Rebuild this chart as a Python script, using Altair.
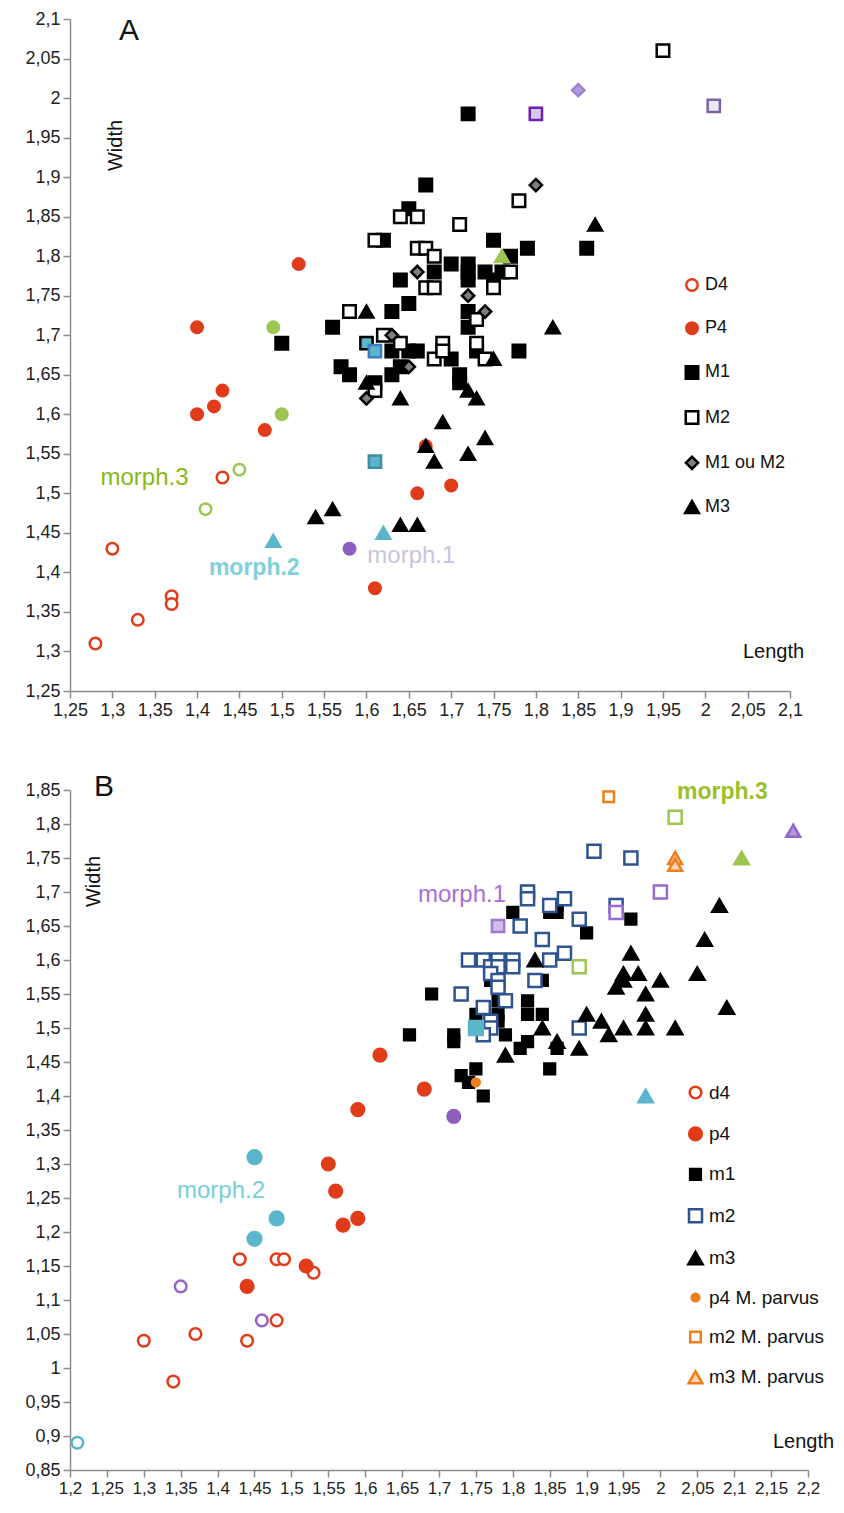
import altair as alt
import pandas as pd

FONT = "Liberation Sans"

# ======================= Panel A data (Length, Width) =======================
A_D4_LEN = [1.28, 1.30, 1.33, 1.37, 1.37, 1.43]
A_D4_WID = [1.31, 1.43, 1.34, 1.37, 1.36, 1.52]

A_P4_LEN = [1.40, 1.40, 1.42, 1.43, 1.48, 1.52, 1.61, 1.66, 1.67, 1.70]
A_P4_WID = [1.71, 1.60, 1.61, 1.63, 1.58, 1.79, 1.38, 1.50, 1.56, 1.51]

A_M1_LEN = [1.50, 1.56, 1.57, 1.58, 1.61, 1.62, 1.63, 1.63, 1.63, 1.64,
            1.64, 1.65, 1.65, 1.65, 1.66, 1.67, 1.68, 1.70, 1.70, 1.71,
            1.71, 1.72, 1.72, 1.72, 1.72, 1.72, 1.72, 1.73, 1.74, 1.75,
            1.75, 1.76, 1.77, 1.78, 1.79, 1.86]
A_M1_WID = [1.69, 1.71, 1.66, 1.65, 1.64, 1.82, 1.73, 1.68, 1.65, 1.77,
            1.66, 1.86, 1.74, 1.68, 1.68, 1.89, 1.78, 1.79, 1.67, 1.65,
            1.64, 1.98, 1.79, 1.78, 1.77, 1.73, 1.71, 1.68, 1.78, 1.82,
            1.77, 1.78, 1.80, 1.68, 1.81, 1.81]

A_M2_LEN = [1.58, 1.61, 1.61, 1.62, 1.64, 1.64, 1.66, 1.66, 1.67, 1.67,
            1.68, 1.68, 1.68, 1.69, 1.69, 1.71, 1.73, 1.73, 1.74, 1.75,
            1.77, 1.78, 1.95]
A_M2_WID = [1.73, 1.82, 1.63, 1.70, 1.85, 1.69, 1.85, 1.81, 1.81, 1.76,
            1.80, 1.76, 1.67, 1.69, 1.68, 1.84, 1.72, 1.69, 1.67, 1.76,
            1.78, 1.87, 2.06]

A_M12_LEN = [1.60, 1.63, 1.65, 1.66, 1.72, 1.74, 1.80]
A_M12_WID = [1.62, 1.70, 1.66, 1.78, 1.75, 1.73, 1.89]

A_M3_LEN = [1.54, 1.56, 1.60, 1.60, 1.64, 1.64, 1.66, 1.67, 1.68, 1.69,
            1.72, 1.72, 1.73, 1.74, 1.75, 1.82, 1.87]
A_M3_WID = [1.47, 1.48, 1.73, 1.64, 1.62, 1.46, 1.46, 1.56, 1.54, 1.59,
            1.63, 1.55, 1.62, 1.57, 1.67, 1.71, 1.84]

# highlighted morphotypes, panel A (length, width)
A_MORPH3_OPEN_CIRCLE = [(1.41, 1.48), (1.45, 1.53)]
A_MORPH3_CIRCLE = [(1.49, 1.71), (1.50, 1.60)]
A_MORPH3_TRIANGLE = [(1.76, 1.80)]
A_MORPH2_TRIANGLE = [(1.49, 1.44), (1.62, 1.45)]
A_MORPH2_SQUARE_DARK = [(1.60, 1.69)]
A_MORPH2_SQUARE_BLUE = [(1.61, 1.68)]
A_MORPH2_SQUARE_TEAL = [(1.61, 1.54)]
A_MORPH1_CIRCLE = [(1.58, 1.43)]
A_MORPH1_SQUARE = [(1.80, 1.98)]
A_MORPH1_DIAMOND = [(1.85, 2.01)]
A_MORPH1_SQUARE_PALE = [(2.01, 1.99)]

A_TICKS = [1.25, 1.30, 1.35, 1.40, 1.45, 1.50, 1.55, 1.60, 1.65, 1.70,
           1.75, 1.80, 1.85, 1.90, 1.95, 2.00, 2.05, 2.10]

A_NOTES_TEXT = ["morph.3", "morph.2", "morph.1"]
A_NOTES_LEN = [1.286, 1.414, 1.601]
A_NOTES_WID = [1.520, 1.406, 1.421]

# ======================= Panel B data (Length, Width) =======================
B_D4_LEN = [1.30, 1.34, 1.37, 1.43, 1.44, 1.48, 1.48, 1.49, 1.53]
B_D4_WID = [1.04, 0.98, 1.05, 1.16, 1.04, 1.16, 1.07, 1.16, 1.14]

B_P4_LEN = [1.44, 1.52, 1.55, 1.56, 1.57, 1.59, 1.59, 1.62, 1.68]
B_P4_WID = [1.12, 1.15, 1.30, 1.26, 1.21, 1.22, 1.38, 1.46, 1.41]

B_M1_LEN = [1.66, 1.69, 1.72, 1.72, 1.73, 1.74, 1.75, 1.75, 1.76, 1.77,
            1.78, 1.78, 1.78, 1.78, 1.79, 1.79, 1.80, 1.81, 1.82, 1.82,
            1.82, 1.84, 1.84, 1.85, 1.85, 1.86, 1.86, 1.86, 1.90, 1.96]
B_M1_WID = [1.49, 1.55, 1.49, 1.48, 1.43, 1.42, 1.44, 1.52, 1.40, 1.57,
            1.58, 1.54, 1.52, 1.51, 1.49, 1.59, 1.67, 1.47, 1.48, 1.54,
            1.52, 1.57, 1.52, 1.44, 1.67, 1.68, 1.67, 1.47, 1.64, 1.66]

B_M2_LEN = [1.73, 1.74, 1.76, 1.78, 1.80, 1.77, 1.78, 1.80, 1.77, 1.78,
            1.78, 1.79, 1.76, 1.77, 1.77, 1.76, 1.81, 1.82, 1.82, 1.83,
            1.84, 1.85, 1.85, 1.87, 1.87, 1.89, 1.89, 1.91, 1.94, 1.96]
B_M2_WID = [1.55, 1.60, 1.60, 1.60, 1.60, 1.59, 1.59, 1.59, 1.58, 1.57,
            1.56, 1.54, 1.53, 1.51, 1.50, 1.49, 1.65, 1.70, 1.69, 1.57,
            1.63, 1.60, 1.68, 1.69, 1.61, 1.66, 1.50, 1.76, 1.68, 1.75]

B_M3_LEN = [1.79, 1.83, 1.84, 1.86, 1.89, 1.90, 1.92, 1.93, 1.94, 1.95,
            1.95, 1.95, 1.96, 1.97, 1.98, 1.98, 1.98, 2.00, 2.02, 2.05,
            2.06, 2.08, 2.09]
B_M3_WID = [1.46, 1.60, 1.50, 1.48, 1.47, 1.52, 1.51, 1.49, 1.56, 1.57,
            1.58, 1.50, 1.61, 1.58, 1.55, 1.52, 1.50, 1.57, 1.50, 1.58,
            1.63, 1.68, 1.53]

B_P4_PARVUS_LEN = [1.75]
B_P4_PARVUS_WID = [1.42]
B_M2_PARVUS_LEN = [1.93]
B_M2_PARVUS_WID = [1.84]
B_M3_PARVUS_LEN = [2.02, 2.02]
B_M3_PARVUS_WID = [1.75, 1.74]

# highlighted morphotypes, panel B (length, width)
B_MORPH1_OPEN_CIRCLE = [(1.35, 1.12), (1.46, 1.07)]
B_MORPH1_CIRCLE = [(1.72, 1.37)]
B_MORPH1_SQUARE_PALE = [(1.78, 1.65)]
B_MORPH1_OPEN_SQUARE = [(1.94, 1.67), (2.00, 1.70)]
B_MORPH1_TRIANGLE = [(2.18, 1.79)]
B_MORPH2_OPEN_CIRCLE = [(1.21, 0.89)]
B_MORPH2_CIRCLE = [(1.45, 1.31), (1.48, 1.22), (1.45, 1.19)]
B_MORPH2_SQUARE = [(1.75, 1.50)]
B_MORPH2_TRIANGLE = [(1.98, 1.40)]
B_MORPH3_OPEN_SQUARE = [(1.89, 1.59), (2.02, 1.81)]
B_MORPH3_TRIANGLE = [(2.11, 1.75)]

B_XTICKS = [1.20, 1.25, 1.30, 1.35, 1.40, 1.45, 1.50, 1.55, 1.60, 1.65, 1.70,
            1.75, 1.80, 1.85, 1.90, 1.95, 2.00, 2.05, 2.10, 2.15, 2.20]
B_YTICKS = [0.85, 0.90, 0.95, 1.00, 1.05, 1.10, 1.15, 1.20, 1.25, 1.30, 1.35,
            1.40, 1.45, 1.50, 1.55, 1.60, 1.65, 1.70, 1.75, 1.80, 1.85]

B_NOTES_TEXT = ["morph.1", "morph.3", "morph.2"]
B_NOTES_LEN = [1.6715, 2.0225, 1.345]
B_NOTES_WID = [1.6956, 1.847, 1.260]

# ======================= styles =======================
RED = "#e03c1a"
GREEN = "#9cc551"
CYAN = "#5bb5cb"
BLUE = "#2e5391"
ORANGE = "#ef7d1a"

A_SERIES = ["D4", "P4", "M1", "M2", "M1 ou M2", "M3"]
A_STYLE = {
    "D4": ("circle", "white", RED, 132),
    "P4": ("circle", RED, RED, 132),
    "M1": ("square", "black", "black", 156),
    "M2": ("square", "white", "black", 156),
    "M1 ou M2": ("diamond", "#7f7f7f", "black", 150),
    "M3": ("triangle-up", "black", "black", 185),
}
B_SERIES = ["d4", "p4", "m1", "m2", "m3", "p4 M. parvus", "m2 M. parvus", "m3 M. parvus"]
B_STYLE = {
    "d4": ("circle", "white", RED, 135),
    "p4": ("circle", RED, RED, 160),
    "m1": ("square", "black", "black", 115),
    "m2": ("square", "white", BLUE, 170),
    "m3": ("triangle-up", "black", "black", 205),
    "p4 M. parvus": ("circle", ORANGE, ORANGE, 60),
    "m2 M. parvus": ("square", "white", ORANGE, 110),
    "m3 M. parvus": ("triangle-up", "#fbd3b0", ORANGE, 190),
}

SPECIAL_STYLE = {
    "a_m3_oc": ("circle", "white", GREEN, 132),
    "a_m3_c": ("circle", GREEN, GREEN, 132),
    "a_m3_t": ("triangle-up", GREEN, GREEN, 185),
    "a_m2_t": ("triangle-up", CYAN, CYAN, 185),
    "a_m2_sd": ("square", CYAN, "black", 150),
    "a_m2_sb": ("square", CYAN, "#3b7cc4", 150),
    "a_m2_st": ("square", CYAN, "#3e8ea2", 150),
    "a_m1_c": ("circle", "#8d5fc0", "#8d5fc0", 132),
    "a_m1_s": ("square", "#d7caea", "#6c22b0", 150),
    "a_m1_d": ("diamond", "#b39cda", "#9e84d0", 150),
    "a_m1_sp": ("square", "#ede7f4", "#7d62a4", 150),
    "b_m1_oc": ("circle", "white", "#9462c9", 135),
    "b_m1_c": ("circle", "#8e5ebf", "#8e5ebf", 160),
    "b_m1_sp": ("square", "#d0bde8", "#a077d0", 150),
    "b_m1_os": ("square", "white", "#9a6ad0", 170),
    "b_m1_t": ("triangle-up", "#b49ad9", "#9068c8", 190),
    "b_m2_oc": ("circle", "white", CYAN, 135),
    "b_m2_c": ("circle", CYAN, CYAN, 190),
    "b_m2_s": ("square", CYAN, CYAN, 190),
    "b_m2_t": ("triangle-up", CYAN, CYAN, 205),
    "b_m3_os": ("square", "white", GREEN, 170),
    "b_m3_t": ("triangle-up", GREEN, GREEN, 205),
}

NOTE_STYLE_A = [("#86b915", "normal", 24), ("#7fd0dc", "bold", 23), ("#cbc3da", "normal", 24)]
NOTE_STYLE_B = [("#a86fd6", "normal", 24), ("#9bbf2c", "bold", 23), ("#78cdd9", "normal", 24)]


def series_frame(pairs):
    rows = []
    for name, lens, wids in pairs:
        for l, w in zip(lens, wids):
            rows.append({"len": l, "wid": w, "series": name})
    return pd.DataFrame(rows)


def special_frame(groups):
    rows = []
    for key, pts in groups:
        shape, fill, stroke, size = SPECIAL_STYLE[key]
        for l, w in pts:
            rows.append({"len": l, "wid": w, "shape": shape, "fill": fill,
                         "stroke": stroke, "size": size})
    return pd.DataFrame(rows)


LABEL_EXPR = "replace(format(datum.value, '.2~f'), '.', ',')"


def panel(main_df, series, style, spec_df, notes, note_style, xdom, ydom,
          xticks, yticks, w, h, leg, letter, letter_xy, wtitle_xy, ltitle_xy, xlabel_fs):
    xs = alt.Scale(domain=xdom, nice=False, zero=False)
    ys = alt.Scale(domain=ydom, nice=False, zero=False)
    axis_common = dict(grid=False, tickSize=7, tickColor="#8c8c8c", tickWidth=1.5,
                       domainColor="#8c8c8c", domainWidth=1.5, labelFont=FONT,
                       labelColor="#222222", labelOverlap=False, labelFlush=False,
                       labelExpr=LABEL_EXPR, titleFont=FONT, titleFontSize=20,
                       titleFontWeight="normal", titleColor="#111111",
                       titleAlign="center", titleBaseline="middle")
    xaxis = alt.Axis(values=xticks, title="Length", titleX=ltitle_xy[0],
                     titleY=ltitle_xy[1], labelPadding=3, labelFontSize=xlabel_fs,
                     **axis_common)
    yaxis = alt.Axis(values=yticks, title="Width", titleX=wtitle_xy[0],
                     titleY=wtitle_xy[1], titleAngle=270, labelPadding=3,
                     labelFontSize=18, **axis_common)
    X = alt.X("len:Q", scale=xs, axis=xaxis)
    Y = alt.Y("wid:Q", scale=ys, axis=yaxis)

    main = alt.Chart(main_df).mark_point(opacity=1, strokeWidth=2.5).encode(
        x=X, y=Y,
        shape=alt.Shape("series:N", scale=alt.Scale(domain=series, range=[style[s][0] for s in series]), legend=leg),
        fill=alt.Fill("series:N", scale=alt.Scale(domain=series, range=[style[s][1] for s in series]), legend=leg),
        stroke=alt.Stroke("series:N", scale=alt.Scale(domain=series, range=[style[s][2] for s in series]), legend=leg),
        size=alt.Size("series:O", scale=alt.Scale(type="ordinal", domain=series, range=[style[s][3] for s in series]), legend=leg),
    )
    spec = alt.Chart(spec_df).mark_point(opacity=1, strokeWidth=2.5).encode(
        x=X, y=Y,
        shape=alt.Shape("shape:N", scale=None),
        fill=alt.Fill("fill:N", scale=None),
        stroke=alt.Stroke("stroke:N", scale=None),
        size=alt.Size("size:Q", scale=None),
    )
    layers = [main, spec]
    texts, lens, wids = notes
    for t, l, wv, (col, weight, fs) in zip(texts, lens, wids, note_style):
        df = pd.DataFrame({"len": [l], "wid": [wv], "t": [t]})
        layers.append(alt.Chart(df).mark_text(align="left", baseline="middle", font=FONT,
                                              fontSize=fs, fontWeight=weight, color=col).encode(
            x=X, y=Y, text="t:N"))
    layers.append(alt.Chart(pd.DataFrame({"t": [letter]})).mark_text(
        font=FONT, fontSize=30, color="#111111", align="center", baseline="middle").encode(
        text="t:N", x=alt.value(letter_xy[0]), y=alt.value(letter_xy[1])))
    return alt.layer(*layers).resolve_scale(
        shape="independent", fill="independent", stroke="independent", size="independent"
    ).properties(width=w, height=h)


def legend(x, y, fs, rowpad):
    return alt.Legend(orient="none", legendX=x, legendY=y, title=None, labelFont=FONT,
                      labelFontSize=fs, labelColor="#111111", rowPadding=rowpad, padding=0,
                      symbolStrokeWidth=2.5, labelOffset=4, symbolOpacity=1)


dfA = series_frame([("D4", A_D4_LEN, A_D4_WID), ("P4", A_P4_LEN, A_P4_WID),
                    ("M1", A_M1_LEN, A_M1_WID), ("M2", A_M2_LEN, A_M2_WID),
                    ("M1 ou M2", A_M12_LEN, A_M12_WID), ("M3", A_M3_LEN, A_M3_WID)])
specA = special_frame([("a_m3_oc", A_MORPH3_OPEN_CIRCLE), ("a_m3_c", A_MORPH3_CIRCLE),
                       ("a_m3_t", A_MORPH3_TRIANGLE), ("a_m2_t", A_MORPH2_TRIANGLE),
                       ("a_m2_sd", A_MORPH2_SQUARE_DARK), ("a_m2_sb", A_MORPH2_SQUARE_BLUE),
                       ("a_m2_st", A_MORPH2_SQUARE_TEAL), ("a_m1_c", A_MORPH1_CIRCLE),
                       ("a_m1_s", A_MORPH1_SQUARE), ("a_m1_d", A_MORPH1_DIAMOND),
                       ("a_m1_sp", A_MORPH1_SQUARE_PALE)])

dfB = series_frame([("d4", B_D4_LEN, B_D4_WID), ("p4", B_P4_LEN, B_P4_WID),
                    ("m1", B_M1_LEN, B_M1_WID), ("m2", B_M2_LEN, B_M2_WID),
                    ("m3", B_M3_LEN, B_M3_WID),
                    ("p4 M. parvus", B_P4_PARVUS_LEN, B_P4_PARVUS_WID),
                    ("m2 M. parvus", B_M2_PARVUS_LEN, B_M2_PARVUS_WID),
                    ("m3 M. parvus", B_M3_PARVUS_LEN, B_M3_PARVUS_WID)])
specB = special_frame([("b_m1_oc", B_MORPH1_OPEN_CIRCLE), ("b_m1_c", B_MORPH1_CIRCLE),
                       ("b_m1_sp", B_MORPH1_SQUARE_PALE), ("b_m1_os", B_MORPH1_OPEN_SQUARE),
                       ("b_m1_t", B_MORPH1_TRIANGLE), ("b_m2_oc", B_MORPH2_OPEN_CIRCLE),
                       ("b_m2_c", B_MORPH2_CIRCLE), ("b_m2_s", B_MORPH2_SQUARE),
                       ("b_m2_t", B_MORPH2_TRIANGLE), ("b_m3_os", B_MORPH3_OPEN_SQUARE),
                       ("b_m3_t", B_MORPH3_TRIANGLE)])

panelA = panel(dfA, A_SERIES, A_STYLE, specA, (A_NOTES_TEXT, A_NOTES_LEN, A_NOTES_WID),
               NOTE_STYLE_A, [1.25, 2.1], [1.25, 2.1], A_TICKS, A_TICKS, 720, 672,
               legend(613, 257, 18, 21.2), "A", (59, 12), (45, 126), (703, -40), 18)
panelB = panel(dfB, B_SERIES, B_STYLE, specB, (B_NOTES_TEXT, B_NOTES_LEN, B_NOTES_WID),
               NOTE_STYLE_B, [1.2, 2.2], [0.85, 1.85], B_XTICKS, B_YTICKS, 738, 680,
               legend(616, 293, 19, 18.4), "B", (34, -3), (23.5, 91), (733, -29), 17)

chart = alt.vconcat(panelA, panelB, spacing=51).properties(
    padding={"top": 1, "left": 16, "right": 0, "bottom": 2}
).configure(font=FONT).configure_view(stroke="transparent").configure_axis(labelOverlap=False)

chart.save("out.html", embed_options={"renderer": "svg", "actions": False})
